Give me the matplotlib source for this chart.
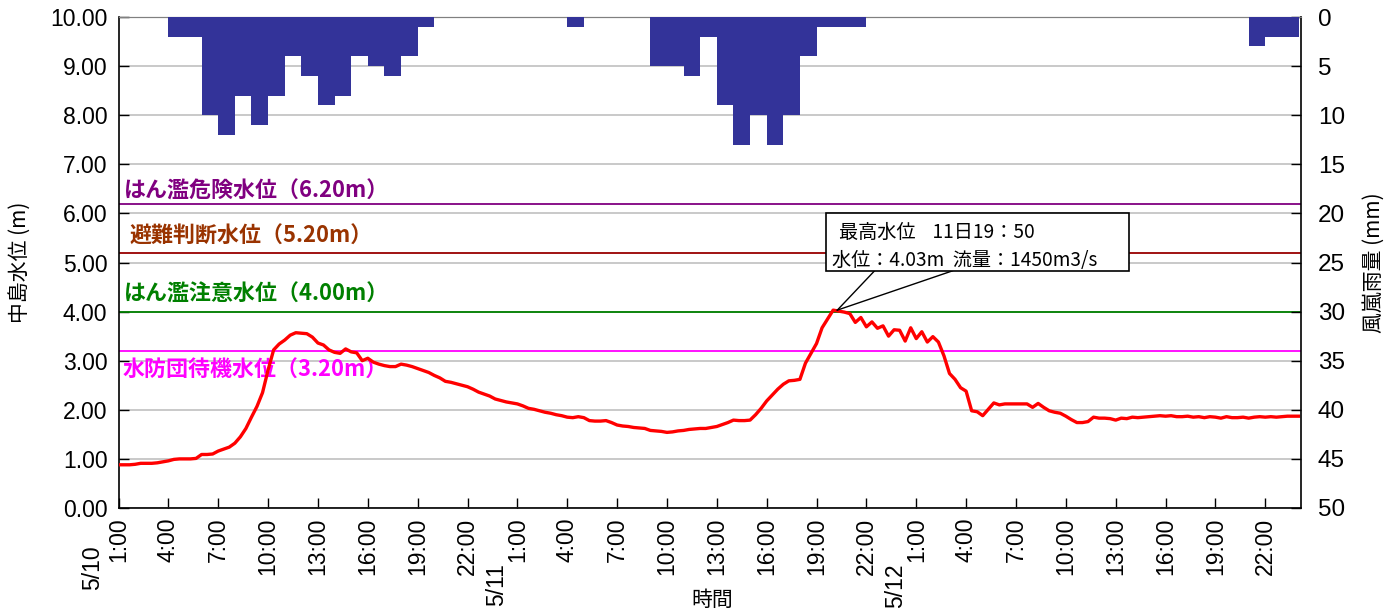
import matplotlib
matplotlib.use('Agg')
import matplotlib.pyplot as plt
from matplotlib.patches import Rectangle
from matplotlib.ticker import MultipleLocator, FormatStrFormatter
import numpy as np

# ---------------- data ----------------
# water level (m), every 20 minutes starting 5/10 1:00
level = [
    0.88, 0.88, 0.88,  0.89, 0.91, 0.91,  0.91, 0.92, 0.94,  0.96, 0.99, 1.00,
    1.00, 1.00, 1.01,  1.09, 1.09, 1.10,  1.16, 1.20, 1.24,  1.32, 1.45, 1.62,
    1.85, 2.07, 2.35,  2.81, 3.22, 3.34,  3.42, 3.52, 3.57,  3.56, 3.55, 3.48,
    3.36, 3.32, 3.22,  3.17, 3.15, 3.24,  3.18, 3.16, 3.00,  3.05, 2.97, 2.93,
    2.90, 2.88, 2.88,  2.93, 2.91, 2.88,  2.84, 2.80, 2.76,  2.70, 2.65, 2.58,
    2.56, 2.53, 2.50,  2.47, 2.42, 2.36,  2.32, 2.28, 2.22,  2.19, 2.16, 2.14,
    2.12, 2.08, 2.03,  2.01, 1.98, 1.95,  1.93, 1.90, 1.88,  1.85, 1.84, 1.86,
    1.84, 1.78, 1.77,  1.77, 1.78, 1.74,  1.69, 1.67, 1.66,  1.64, 1.63, 1.62,
    1.58, 1.57, 1.56,  1.54, 1.55, 1.57,  1.58, 1.60, 1.61,  1.62, 1.62, 1.64,
    1.66, 1.70, 1.74,  1.79, 1.78, 1.78,  1.79, 1.90, 2.03,  2.18, 2.30, 2.42,
    2.52, 2.59, 2.60,  2.62, 2.95, 3.15,  3.35, 3.67, 3.85,  4.03, 4.01, 3.99,
    3.96, 3.78, 3.88,  3.69, 3.79, 3.66,  3.71, 3.50, 3.63,  3.62, 3.40, 3.67,
    3.45, 3.59, 3.38,  3.49, 3.38, 3.10,  2.74, 2.62, 2.45,  2.38, 1.98, 1.96,
    1.88, 2.01, 2.14,  2.10, 2.12, 2.12,  2.12, 2.12, 2.12,  2.05, 2.13, 2.05,
    1.98, 1.95, 1.93,  1.87, 1.80, 1.74,  1.74, 1.76, 1.85,  1.83, 1.83, 1.82,
    1.79, 1.83, 1.82,  1.85, 1.84, 1.85,  1.86, 1.87, 1.88,  1.87, 1.88, 1.86,
    1.86, 1.87, 1.85,  1.86, 1.84, 1.86,  1.85, 1.83, 1.86,  1.84, 1.84, 1.85,
    1.83, 1.85, 1.86,  1.85, 1.86, 1.85,  1.86, 1.87, 1.87,  1.87,
]
level_step_hours = 1 / 3

# hourly rainfall (mm), hour blocks starting 5/10 1:00
rain = [
    0, 0, 0, 2, 2, 10, 12, 8, 11, 8, 4, 6, 9, 8, 4, 5, 6, 4, 1,
    0, 0, 0, 0, 0, 0, 0, 0,
    1,
    0, 0, 0, 0,
    5, 5, 6, 2, 9, 13, 10, 13, 10, 4, 1, 1, 1,
    0, 0, 0, 0, 0, 0, 0, 0, 0, 0, 0, 0, 0, 0, 0, 0, 0, 0, 0, 0, 0, 0, 0,
    3, 2, 2,
]

time_labels = ['1:00', '4:00', '7:00', '10:00', '13:00', '16:00', '19:00', '22:00'] * 3
date_labels = ['5/10', '5/11', '5/12']

thresholds = [6.20, 5.20, 4.00, 3.20]
threshold_names = ['はん濫危険水位（6.20m）', '避難判断水位（5.20m）',
                   'はん濫注意水位（4.00m）', '水防団待機水位（3.20m）']
threshold_line_colors = ['#800080', '#990000', '#008000', '#FF00FF']
threshold_text_colors = ['#800080', '#993300', '#008000', '#FF00FF']

peak_title = '最高水位    11日19：50'
peak_detail = '水位：4.03m  流量：1450m3/s'
peak_time_h = 43.0
peak_value = 4.03

# ---------------- figure ----------------
num_font = ['Liberation Sans Narrow', 'Liberation Sans', 'DejaVu Sans']
cjk_font = ['Noto Sans CJK JP', 'DejaVu Sans']
plt.rcParams['font.family'] = num_font

fig = plt.figure(figsize=(13.96, 6.12), dpi=100)
ax = fig.add_axes([118.5 / 1396, 1 - 508 / 612, (1301 - 118.5) / 1396, (508 - 17) / 612])

t = np.arange(len(level)) * level_step_hours
ax.set_xlim(0, 71.15)
ax.set_ylim(0, 10)

ax.yaxis.set_major_locator(MultipleLocator(1))
ax.yaxis.set_major_formatter(FormatStrFormatter('%.2f'))
ax.grid(axis='y', color='#C0C0C0', linewidth=1.2, zorder=0)
ax.set_axisbelow(True)

tick_pos = np.arange(len(time_labels)) * 3
ax.set_xticks(tick_pos)
ax.set_xticklabels(time_labels, rotation=90, fontsize=16.5)
ax.tick_params(axis='x', direction='in', length=7, pad=7, width=1)
ax.tick_params(axis='y', direction='in', length=7, labelsize=16.5, width=1, pad=8)

for i, d in enumerate(date_labels):
    off = (-19, -27) if i == 0 else (-15, -40)
    ax.annotate(d, xy=(tick_pos[i * 8], 0), xycoords=('data', 'axes fraction'),
                xytext=off, textcoords='offset points', rotation=90,
                ha='center', va='top', fontsize=16.5, annotation_clip=False)

# threshold lines
for v, c in zip(thresholds, threshold_line_colors):
    ax.axhline(v, color=c, linewidth=1.3, zorder=2)

label_x = [0.35, 0.65, 0.35, 0.25]
label_y_off = [0.02, 0.10, 0.12, -0.62]
for v, name, c, lx, dy in zip(thresholds, threshold_names, threshold_text_colors, label_x, label_y_off):
    ax.text(lx, v + dy, name, color=c, fontsize=15.8, fontweight='bold',
            family=cjk_font, ha='left', va='bottom', zorder=3)

# water level line
ax.plot(t, level, color='#FF0000', linewidth=2.4, zorder=4)

# peak callout
bx0, bx1, by0, by1 = 42.58, 60.82, 4.83, 6.01
ax.plot([45.49, peak_time_h + 0.25], [by0, peak_value], color='black', linewidth=1, zorder=5)
ax.plot([50.18, peak_time_h + 0.25], [by0, peak_value], color='black', linewidth=1, zorder=5)
ax.add_patch(Rectangle((bx0, by0), bx1 - bx0, by1 - by0, facecolor='white',
                       edgecolor='black', linewidth=1.2, zorder=6))
ax.text(43.38, 5.62, peak_title, family=cjk_font, fontsize=13.8, va='center', ha='left', zorder=7)
ax.text(42.96, 5.05, peak_detail, family=cjk_font, fontsize=13.8, va='center', ha='left', zorder=7)

for s in ['left', 'bottom']:
    ax.spines[s].set_linewidth(1.2)
ax.spines['top'].set_color('#808080')
ax.spines['right'].set_visible(False)

ax.set_ylabel('中島水位 (m)', family=cjk_font, fontsize=15)
ax.yaxis.set_label_coords(-0.074, 0.5)
ax.set_xlabel('時間', family=cjk_font, fontsize=15)
ax.xaxis.set_label_coords(0.502, -0.165)

# rainfall on twin axis
ax2 = ax.twinx()
ax2.set_ylim(50, 0)
ax2.bar(np.arange(len(rain)), rain, width=1.0, align='edge', color='#333399', zorder=3)
ax2.set_xlim(ax.get_xlim())
ax2.yaxis.set_major_locator(MultipleLocator(5))
ax2.tick_params(axis='y', direction='in', length=7, labelsize=17.5, width=1, pad=12)
ax2.spines['right'].set_linewidth(1.2)
ax2.spines['top'].set_color('#808080')
ax2.spines['left'].set_visible(False)
ax2.spines['bottom'].set_visible(False)
ax2.set_ylabel('風嵐雨量 (mm)', family=cjk_font, fontsize=15, rotation=90)
ax2.yaxis.set_label_coords(1.052, 0.5)

fig.savefig('out.png', dpi=100)
